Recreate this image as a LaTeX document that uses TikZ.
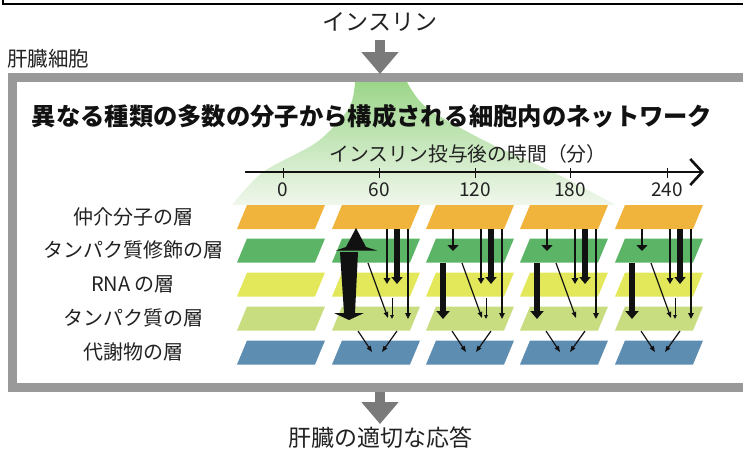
\documentclass[tikz,border=0pt]{standalone}
\usepackage{fontspec}
\setmainfont{Noto Sans CJK JP}
\usetikzlibrary{arrows.meta}
\definecolor{framegray}{HTML}{999999}
\definecolor{arrgray}{HTML}{7A7A7A}
\definecolor{textc}{HTML}{222222}
\definecolor{lorange}{HTML}{F0B43C}
\definecolor{lgreen}{HTML}{5CB466}
\definecolor{lyellow}{HTML}{E2E85A}
\definecolor{llgreen}{HTML}{C8DC80}
\definecolor{lblue}{HTML}{5E8DB2}
\definecolor{conetop}{HTML}{9CD68A}
\definecolor{conebot}{HTML}{F0F7EC}
\definecolor{ink}{HTML}{111111}
\tikzset{
  lbl/.style={font=\fontsize{20}{20}\selectfont, text=textc, inner sep=0pt},
  big/.style={font=\fontsize{23}{23}\selectfont, text=textc, inner sep=0pt},
  ticklbl/.style={font=\fontsize{19}{19}\selectfont, text=textc, inner sep=0pt},
  grayarrow/.style={line width=10pt, draw=arrgray, -{Triangle[length=22pt,width=36pt]}},
  thinA/.style={draw=ink, line width=2.2pt, -{Triangle[length=6pt,width=6.5pt]}},
  thickA/.style={draw=ink, line width=5.5pt, -{Triangle[length=7pt,width=11pt]}},
  hairA/.style={draw=ink, line width=1.6pt, -{Triangle[length=6pt,width=5.5pt]}},
  diagA/.style={draw=ink, line width=1.2pt, -{Triangle[length=6pt,width=4.5pt]}},
  shortA/.style={draw=ink, line width=0.9pt, -{Triangle[length=4pt,width=3.5pt]}},
  downA/.style={draw=ink, line width=2.6pt, -{Triangle[length=6pt,width=11pt]}},
  gthickA/.style={draw=ink, line width=6pt, -{Triangle[length=8pt,width=13pt]}},
}
\begin{document}
\begin{tikzpicture}[x=1pt,y=-1pt]
\useasboundingbox (0,0) rectangle (743,450);
% top border remnant
\draw[line width=2pt, black] (2.5,0) -- (2.5,3.5) -- (743,3.5);
% light cone
\shade[top color=conetop, bottom color=conebot]
  plot[smooth] coordinates {(232,205) (263,172) (317,142) (349,108) (355,82)}
  -- plot[smooth] coordinates {(407,82) (427,108) (487,142) (553,172) (616,205)}
  -- cycle;
% frame
\draw[line width=9pt, framegray] (750,77.5) -- (12.5,77.5) -- (12.5,387.5) -- (750,387.5);
% texts outside
\node[big] (ins) at (380,22) {インスリン};
\node[lbl, font=\fontsize{20.5}{20.5}\selectfont, anchor=west] (cell) at (7,59) {肝臓細胞};
\node[big] (resp) at (380,438) {肝臓の適切な応答};
\coordinate (insb) at (380,40);
\coordinate (ftop) at (380,74);
\coordinate (fbot) at (380,392);
\coordinate (respt) at (380,424);
\draw[grayarrow] (insb) -- (ftop);
\draw[grayarrow] (fbot) -- (respt);
% title
\node[font=\fontsize{24.3}{24.3}\selectfont\bfseries, text=ink, inner sep=0pt] (title) at (372,116)
  {異なる種類の多数の分子から構成される細胞内のネットワーク};
% axis
\node[lbl, font=\fontsize{19.8}{19.8}\selectfont] (axl) at (468,154) {インスリン投与後の時間（分）};
\coordinate (ax0) at (245,172);
\coordinate (ax1) at (704,172);
\draw[draw=ink, line width=2.6pt, -{Straight Barb[length=12pt,width=26pt,line width=2.6pt]}] (ax0) -- (ax1);
\foreach \tx/\tl in {283/0,379/60,475/120,570/180,667/240}{
  \draw[draw=ink, line width=1pt] (\tx,168) -- (\tx,178);
  \node[ticklbl] (t\tl) at (\tx,190) {\tl};
}
% row labels
\node[lbl] (r1) at (133,217) {仲介分子の層};
\node[lbl] (r2) at (133,250) {タンパク質修飾の層};
\node[lbl] (r3) at (133,284) {RNA の層};
\node[lbl] (r4) at (133,318) {タンパク質の層};
\node[lbl] (r5) at (133,352) {代謝物の層};
% layers
\foreach \bx in {237,332,426,520,615}{
  \foreach \top/\col in {205/lorange,238.5/lgreen,272.5/lyellow,306.5/llgreen,340.5/lblue}{
    \fill[\col] (\bx,\top+24) -- (\bx+78,\top+24) -- (\bx+88,\top) -- (\bx+10,\top) -- cycle;
  }
}
% arrows per column
\foreach \bx [count=\i] in {332,426,520,615}{
  \coordinate (p55s\i) at (\bx+55,229);  \coordinate (p55e\i) at (\bx+55,284);
  \coordinate (p65s\i) at (\bx+65,229);  \coordinate (p65e\i) at (\bx+65,284);
  \coordinate (p76s\i) at (\bx+76,229);  \coordinate (p76e\i) at (\bx+76,319);
  \coordinate (dgs\i) at (\bx+36,263);   \coordinate (dge\i) at (\bx+56,318);
  \coordinate (v1s\i) at (\bx+26,331);   \coordinate (v1e\i) at (\bx+40,352);
  \coordinate (v2s\i) at (\bx+65,331);   \coordinate (v2e\i) at (\bx+50,352);
  \draw[thinA] (p55s\i) -- (p55e\i);
  \draw[thickA] (p65s\i) -- (p65e\i);
  \draw[hairA] (p76s\i) -- (p76e\i);
  \draw[diagA] (dgs\i) -- (dge\i);
  \draw[diagA] (v1s\i) -- (v1e\i);
  \draw[diagA] (v2s\i) -- (v2e\i);
  \ifnum\i=3\else
    \coordinate (shs\i) at (\bx+60,298); \coordinate (she\i) at (\bx+60,319);
    \draw[shortA] (shs\i) -- (she\i);
  \fi
  \ifnum\i>1
    \coordinate (sds\i) at (\bx+27,229); \coordinate (sde\i) at (\bx+27,251);
    \coordinate (tks\i) at (\bx+17,263); \coordinate (tke\i) at (\bx+17,319);
    \draw[downA] (sds\i) -- (sde\i);
    \draw[gthickA] (tks\i) -- (tke\i);
  \fi
}
% big arrows in 60 min column
\fill[ink] (356,228) -- (346,247) -- (336,250.5) -- (377,250.5) -- (366,247) -- cycle;
\fill[ink] (340,252) -- (358,252) -- (355,313) -- (364,313) -- (349,320) -- (334,313) -- (344,313) -- cycle;
\end{tikzpicture}
\end{document}
